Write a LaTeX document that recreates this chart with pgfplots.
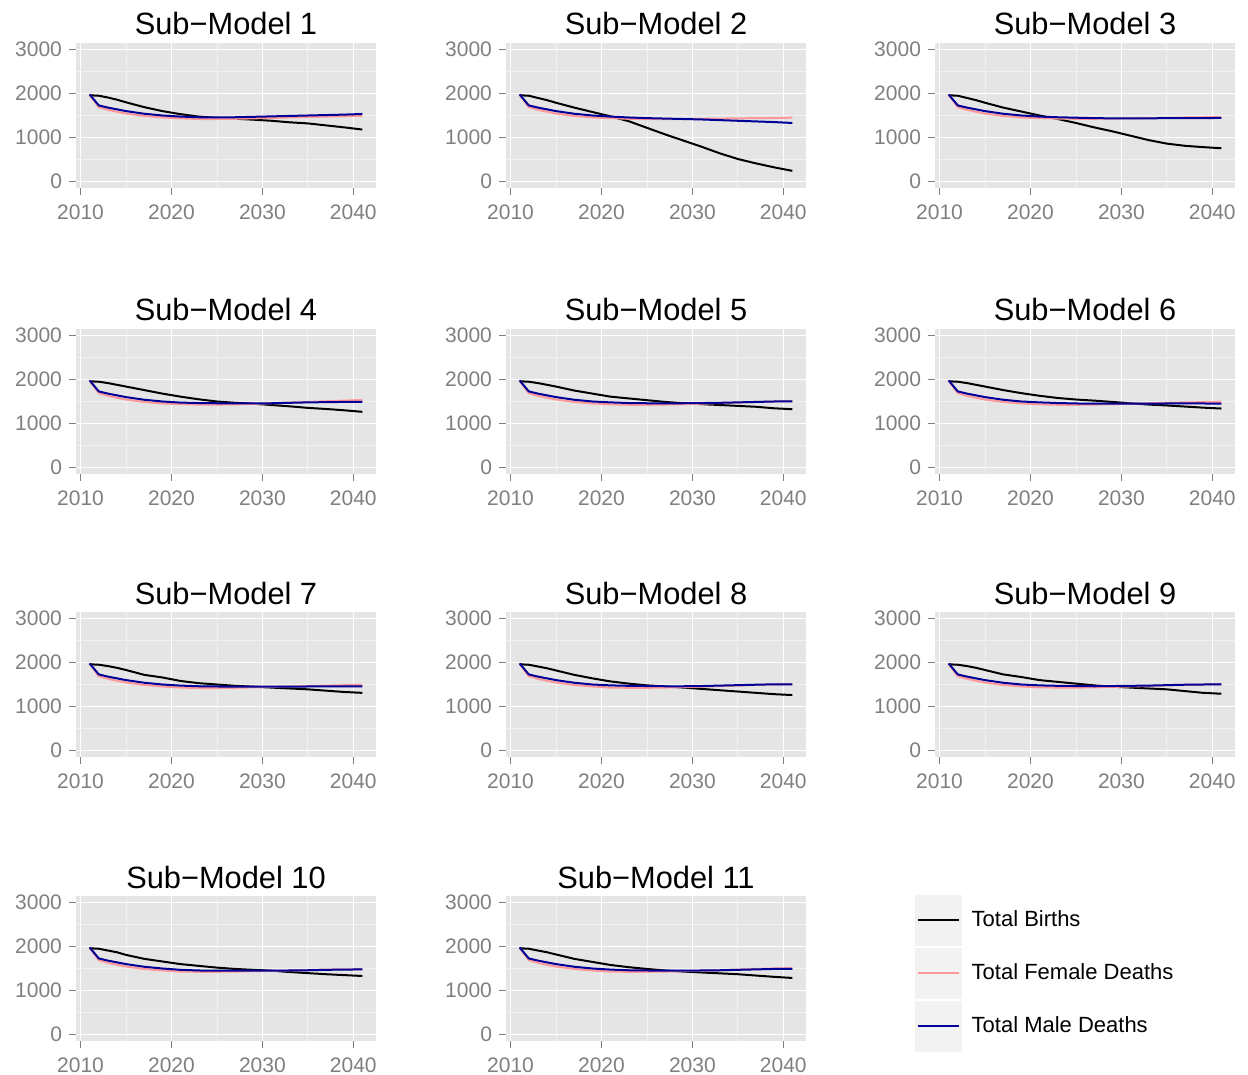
\documentclass[border=0pt]{standalone}
\usepackage{pgfplots}
\usepackage{pgfplotstable}
\pgfplotsset{compat=1.18}
\usepackage{fontspec}
\setmainfont{Liberation Sans}
\definecolor{panelbg}{HTML}{E5E5E5}
\definecolor{minorgrid}{HTML}{F2F2F2}
\definecolor{ticklab}{HTML}{7F7F7F}
\definecolor{femc}{HTML}{FF9999}
\definecolor{malec}{HTML}{000099}
\definecolor{keybg}{HTML}{F2F2F2}

\pgfplotstableread{
year B F M
2011 1960 1970 1980
2012 1950 1690 1730
2013 1910 1630 1680
2014 1860 1585 1640
2015 1800 1545 1600
2017 1690 1490 1540
2019 1600 1455 1500
2021 1530 1435 1475
2023 1475 1420 1460
2025 1445 1420 1455
2027 1425 1425 1460
2029 1405 1435 1470
2031 1380 1445 1480
2033 1345 1455 1490
2035 1320 1465 1500
2037 1275 1475 1510
2039 1230 1485 1520
2041 1180 1495 1535
}\tA
\pgfplotstableread{
year B F M
2011 1960 1970 1980
2012 1950 1690 1730
2013 1900 1630 1680
2014 1850 1585 1640
2015 1790 1545 1600
2017 1680 1490 1540
2019 1580 1455 1500
2021 1480 1440 1475
2023 1370 1425 1455
2025 1220 1420 1440
2027 1070 1420 1430
2029 930 1420 1420
2031 790 1425 1410
2033 640 1430 1395
2035 510 1435 1380
2037 410 1440 1365
2039 320 1445 1350
2041 240 1450 1330
}\tB
\pgfplotstableread{
year B F M
2011 1960 1970 1980
2012 1950 1690 1730
2013 1900 1630 1680
2014 1850 1585 1640
2015 1790 1545 1600
2017 1680 1490 1540
2019 1590 1455 1500
2021 1500 1440 1475
2023 1420 1430 1460
2025 1330 1425 1450
2027 1230 1425 1440
2029 1140 1430 1435
2031 1040 1435 1435
2033 940 1440 1435
2035 860 1445 1440
2037 810 1455 1440
2039 780 1460 1440
2041 755 1465 1445
}\tC
\pgfplotstableread{
year B F M
2011 1960 1970 1980
2012 1950 1690 1730
2013 1920 1630 1680
2014 1880 1585 1640
2015 1840 1545 1600
2017 1760 1490 1540
2019 1680 1455 1500
2021 1610 1440 1475
2023 1550 1430 1465
2025 1500 1430 1460
2027 1470 1435 1455
2029 1450 1445 1455
2031 1420 1460 1460
2033 1390 1475 1470
2035 1355 1490 1480
2037 1330 1505 1485
2039 1300 1520 1490
2041 1265 1535 1490
}\tD
\pgfplotstableread{
year B F M
2011 1960 1970 1980
2012 1950 1690 1730
2013 1920 1630 1680
2014 1880 1585 1640
2015 1840 1545 1600
2017 1750 1490 1540
2019 1680 1455 1500
2021 1610 1435 1480
2023 1570 1425 1465
2025 1530 1425 1460
2027 1490 1430 1460
2029 1460 1440 1460
2031 1440 1450 1465
2033 1420 1465 1470
2035 1400 1475 1480
2037 1380 1490 1490
2039 1345 1500 1500
2041 1325 1510 1505
}\tE
\pgfplotstableread{
year B F M
2011 1960 1970 1980
2012 1950 1690 1730
2013 1920 1630 1680
2014 1880 1585 1640
2015 1840 1545 1600
2017 1760 1490 1540
2019 1690 1455 1500
2021 1630 1435 1480
2023 1580 1425 1465
2025 1545 1425 1455
2027 1520 1430 1450
2029 1490 1440 1450
2031 1460 1450 1450
2033 1430 1460 1450
2035 1410 1470 1455
2037 1385 1480 1455
2039 1360 1485 1455
2041 1340 1490 1450
}\tF
\pgfplotstableread{
year B F M
2011 1960 1970 1980
2012 1950 1690 1730
2013 1920 1630 1680
2014 1880 1585 1640
2015 1830 1545 1600
2017 1720 1490 1540
2019 1660 1455 1500
2021 1580 1430 1475
2023 1530 1420 1460
2025 1500 1420 1455
2027 1470 1425 1450
2029 1450 1435 1450
2031 1430 1445 1450
2033 1410 1455 1450
2035 1390 1465 1455
2037 1360 1475 1455
2039 1330 1485 1460
2041 1310 1495 1460
}\tG
\pgfplotstableread{
year B F M
2011 1960 1970 1980
2012 1950 1690 1730
2013 1910 1630 1680
2014 1870 1585 1640
2015 1820 1545 1600
2017 1720 1490 1540
2019 1640 1455 1500
2021 1570 1430 1480
2023 1520 1425 1470
2025 1480 1425 1465
2027 1455 1430 1460
2029 1430 1440 1460
2031 1400 1450 1465
2033 1370 1465 1475
2035 1340 1475 1485
2037 1310 1490 1495
2039 1280 1500 1505
2041 1260 1510 1505
}\tH
\pgfplotstableread{
year B F M
2011 1960 1970 1980
2012 1950 1690 1730
2013 1920 1630 1680
2014 1880 1585 1640
2015 1830 1545 1600
2017 1730 1490 1540
2019 1670 1455 1500
2021 1600 1435 1480
2023 1560 1430 1470
2025 1520 1430 1465
2027 1480 1435 1460
2029 1450 1445 1465
2031 1430 1455 1470
2033 1410 1465 1475
2035 1390 1480 1485
2037 1350 1490 1495
2039 1310 1500 1500
2041 1290 1510 1505
}\tI
\pgfplotstableread{
year B F M
2011 1960 1970 1980
2012 1950 1690 1730
2013 1910 1630 1680
2014 1870 1585 1640
2015 1810 1545 1600
2017 1720 1490 1540
2019 1660 1455 1500
2021 1600 1430 1470
2023 1560 1425 1455
2025 1520 1425 1450
2027 1490 1430 1450
2029 1470 1440 1450
2031 1450 1445 1450
2033 1420 1455 1455
2035 1395 1465 1460
2037 1370 1475 1470
2039 1350 1480 1475
2041 1330 1485 1480
}\tJ
\pgfplotstableread{
year B F M
2011 1960 1970 1980
2012 1950 1690 1730
2013 1910 1630 1680
2014 1870 1585 1640
2015 1820 1545 1600
2017 1720 1490 1540
2019 1650 1455 1500
2021 1580 1430 1475
2023 1530 1425 1460
2025 1490 1425 1455
2027 1455 1430 1450
2029 1430 1440 1450
2031 1410 1450 1455
2033 1390 1460 1460
2035 1370 1475 1470
2037 1340 1490 1480
2039 1310 1500 1490
2041 1285 1510 1490
}\tK

\pgfplotsset{
  every axis title/.style={at={(0.5,1)}, anchor=base, yshift=4pt,
    font=\fontsize{15.4}{18}\selectfont},
  subm/.style={
    width=150pt, height=72.5pt, scale only axis,
    anchor=north west,
    xmin=2009.5, xmax=2042.5, ymin=-150, ymax=3150,
    xtick={2010,2020,2030,2040}, ytick={0,1000,2000,3000},
    minor xtick={2015,2025,2035}, minor ytick={500,1500,2500},
    grid=both,
    major grid style={white, line width=0.65pt},
    minor grid style={minorgrid, line width=0.35pt},
    axis background/.style={fill=panelbg},
    axis line style={draw=none},
    tick align=outside,
    tick pos=left,
    major tick length=3.5pt, minor tick length=0pt,
    major tick style={ticklab, line width=0.55pt},
    tick label style={font=\fontsize{10.5}{12}\selectfont, text=ticklab},
    xticklabel style={yshift=-1.5pt},
    /pgf/number format/assume math mode=true,
    /pgf/number format/1000 sep={},
    every axis plot/.append style={line width=1pt, no markers},
  },
}

\newcommand{\panel}[4]{%
  \begin{axis}[subm, at={(#1,#2)}, title={Sub−Model #3}]
    \addplot[black] table[x=year,y=B] {#4};
    \addplot[femc] table[x=year,y=F] {#4};
    \addplot[malec] table[x=year,y=M] {#4};
  \end{axis}}

\begin{document}
\begin{tikzpicture}
\panel{38pt}{-21.5pt}{1}{\tA}
\panel{253pt}{-21.5pt}{2}{\tB}
\panel{467.5pt}{-21.5pt}{3}{\tC}
\panel{38pt}{-164.5pt}{4}{\tD}
\panel{253pt}{-164.5pt}{5}{\tE}
\panel{467.5pt}{-164.5pt}{6}{\tF}
\panel{38pt}{-306pt}{7}{\tG}
\panel{253pt}{-306pt}{8}{\tH}
\panel{467.5pt}{-306pt}{9}{\tI}
\panel{38pt}{-448pt}{10}{\tJ}
\begin{axis}[subm, at={(253pt,-448pt)}, title={Sub−Model 11},
    legend style={at={(1.363,1.012)}, anchor=north west, draw=none, fill=none,
      font=\fontsize{11}{13}\selectfont, row sep=1pt, column sep=2.5pt,
      inner sep=0pt, nodes={inner sep=2.2pt}},
    legend cell align=left,
    legend image code/.code={%
      \path[draw=none, fill=none] (0pt,-12.75pt) rectangle (23.5pt,12.75pt);
      \fill[keybg, draw=none] (0pt,-12.75pt) rectangle (23.5pt,12.75pt);
      \draw[line width=1.2pt] (1.5pt,0pt) -- (22pt,0pt);}]
  \addplot[black] table[x=year,y=B] {\tK};
  \addlegendentry{Total Births}
  \addplot[femc] table[x=year,y=F] {\tK};
  \addlegendentry{Total Female Deaths}
  \addplot[malec] table[x=year,y=M] {\tK};
  \addlegendentry{Total Male Deaths}
\end{axis}
\pgfresetboundingbox
\path[use as bounding box] (0pt,0pt) rectangle (624pt,-537.5pt);
\end{tikzpicture}
\end{document}
